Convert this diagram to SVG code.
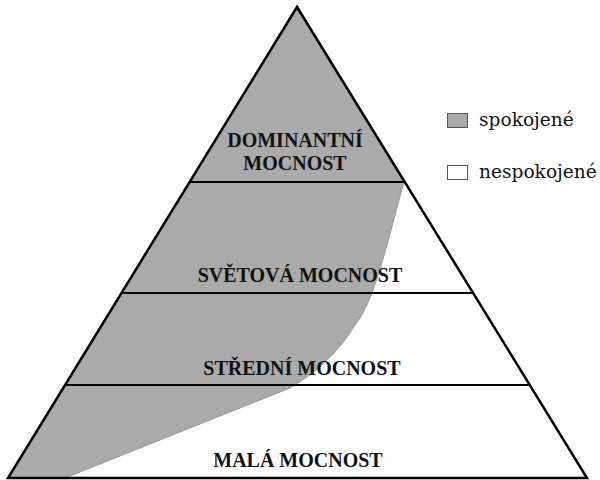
<svg xmlns="http://www.w3.org/2000/svg" width="600" height="480" viewBox="0 0 600 480">
<style>
.lvl{font-family:"Liberation Serif",serif;font-weight:bold;font-size:20px;fill:#111;text-anchor:middle}
.leg{font-family:"DejaVu Serif",serif;font-size:18.6px;fill:#111}
.div{stroke:#000;stroke-width:2}
</style>
<rect width="600" height="480" fill="#fff"/>
<g id="satisfied-area">
<path d="M297,7 L404,182 C385,250 375,300 355,325 C340,350 320,370 290,388 L65,478 L8,478 Z" fill="#aaaaaa" stroke="#999" stroke-width="1"/>
</g>
<g id="dividers">
<line class="div" x1="189" y1="182" x2="405" y2="182"/>
<line class="div" x1="121" y1="293" x2="473" y2="293"/>
<line class="div" x1="65" y1="385" x2="530" y2="385"/>
</g>
<g id="pyramid">
<path d="M297,7 L587,478 L8,478 Z" fill="none" stroke="#000" stroke-width="2.5" stroke-linejoin="miter"/>
</g>
<g id="level-dominant">
<text class="lvl" x="295" y="147">DOMINANTNÍ</text>
<text class="lvl" x="295" y="170">MOCNOST</text>
</g>
<g id="level-world"><text class="lvl" x="300" y="282">SVĚTOVÁ MOCNOST</text></g>
<g id="level-middle"><text class="lvl" x="302" y="375">STŘEDNÍ MOCNOST</text></g>
<g id="level-small"><text class="lvl" x="298" y="467">MALÁ MOCNOST</text></g>
<g id="legend">
<rect x="447.5" y="113.5" width="20" height="14" fill="#aaaaaa" stroke="#555" stroke-width="1"/>
<text class="leg" x="479" y="126">spokojené</text>
<rect x="447.5" y="165.5" width="20" height="14" fill="#fff" stroke="#555" stroke-width="1"/>
<text class="leg" x="479" y="178">nespokojené</text>
</g>
</svg>
